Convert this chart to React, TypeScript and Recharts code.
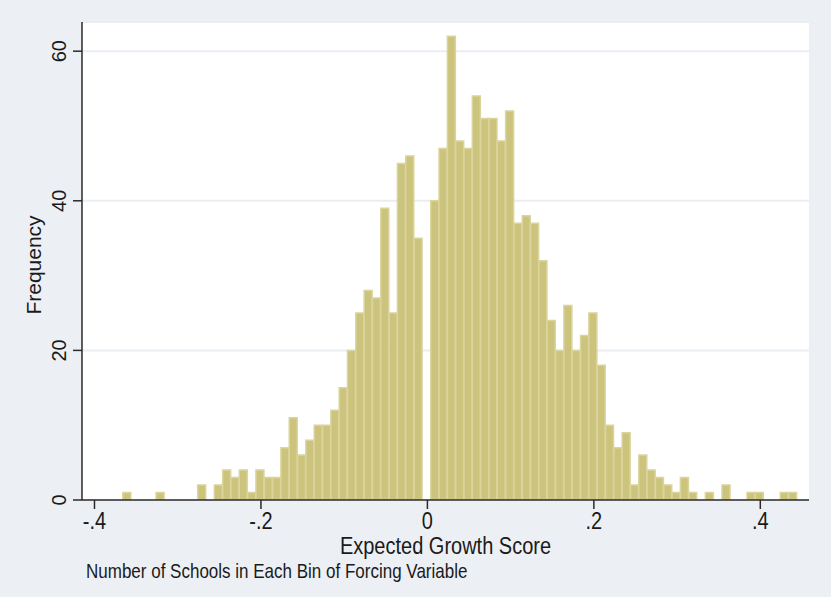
import React from 'react';
import { BarChart, Bar, XAxis, YAxis, CartesianGrid, Label } from 'recharts';

// bin midpoints (bin width .01)
const binMids = [
  -0.361, -0.351, -0.341, -0.331, -0.321, -0.311, -0.301, -0.291, -0.281, -0.271,
  -0.261, -0.251, -0.241, -0.231, -0.221, -0.211, -0.201, -0.191, -0.181, -0.171,
  -0.161, -0.151, -0.141, -0.131, -0.121, -0.111, -0.101, -0.091, -0.081, -0.071,
  -0.061, -0.051, -0.041, -0.031, -0.021, -0.011, -0.001, 0.009, 0.019, 0.029,
  0.039, 0.049, 0.059, 0.069, 0.079, 0.089, 0.099, 0.109, 0.119, 0.129,
  0.139, 0.149, 0.159, 0.169, 0.179, 0.189, 0.199, 0.209, 0.219, 0.229,
  0.239, 0.249, 0.259, 0.269, 0.279, 0.289, 0.299, 0.309, 0.319, 0.329,
  0.339, 0.349, 0.359, 0.369, 0.379, 0.389, 0.399, 0.409, 0.419, 0.429,
  0.439,
];

// number of schools per bin
const frequency = [
  1, 0, 0, 0, 1, 0, 0, 0, 0, 2,
  0, 2, 4, 3, 4, 1, 4, 3, 3, 7,
  11, 6, 8, 10, 10, 12, 15, 20, 25, 28,
  27, 39, 25, 45, 46, 35, 0, 40, 47, 62,
  48, 47, 54, 51, 51, 48, 52, 37, 38, 37,
  32, 24, 20, 26, 20, 22, 25, 18, 10, 7,
  9, 2, 6, 4, 3, 2, 1, 3, 1, 0,
  1, 0, 2, 0, 0, 1, 1, 0, 0, 1,
  1,
];

const xTicks = [-0.4, -0.2, 0, 0.2, 0.4];
const yTicks = [0, 20, 40, 60];

const data = binMids.map((x, i) => ({ x, freq: frequency[i] }));

const FONT = '"Liberation Sans", Arial, sans-serif';
const INK = '#1a1a1a';
const STRETCH = 1.15; // horizontal text is drawn a little taller than wide

const fmtX = (v: number) => (v === 0 ? '0' : v.toFixed(1).replace('0.', '.'));

const XTick = (props: any) => {
  const { x, y, payload } = props;
  return (
    <g transform={`translate(${x},${y}) scale(1,${STRETCH})`}>
      <text x={0} y={0} dy="0.71em" textAnchor="middle" fontSize={20} fontFamily={FONT} fill={INK}>
        {fmtX(payload.value)}
      </text>
    </g>
  );
};

const XTitle = (props: any) => {
  const { viewBox } = props;
  const cx = viewBox.x + viewBox.width / 2;
  const top = viewBox.y + viewBox.height + 8;
  return (
    <g transform={`translate(${cx},${top}) scale(1,${STRETCH})`}>
      <text x={0} y={0} dy="0.71em" textAnchor="middle" fontSize={20} fontFamily={FONT} fill={INK}>
        Expected Growth Score
      </text>
    </g>
  );
};

const YTick = (props: any) => {
  const { x, y, payload } = props;
  const bx = x - 5;
  return (
    <text
      x={bx}
      y={y}
      transform={`rotate(-90 ${bx} ${y})`}
      textAnchor="middle"
      fontSize={20}
      fontFamily={FONT}
      fill={INK}
    >
      {payload.value}
    </text>
  );
};

const YTitle = (props: any) => {
  const { viewBox } = props;
  const bx = viewBox.x + 19;
  const cy = viewBox.y + viewBox.height / 2 + 4;
  return (
    <text
      x={bx}
      y={cy}
      transform={`rotate(-90 ${bx} ${cy})`}
      textAnchor="middle"
      fontSize={21}
      fontFamily={FONT}
      fill={INK}
    >
      Frequency
    </text>
  );
};

export default function App() {
  return (
    <div
      style={{
        position: 'absolute',
        left: 0,
        top: 0,
        width: 831,
        height: 597,
        background: '#ECF0F5',
      }}
    >
      <BarChart
        width={831}
        height={597}
        data={data}
        margin={{ top: 22, right: 22, bottom: 67, left: 22 }}
        barCategoryGap={0}
        barGap={0}
      >
        <CartesianGrid vertical={false} fill="#ffffff" stroke="#E9EEF3" strokeWidth={2} />
        <XAxis
          type="number"
          dataKey="x"
          domain={[-0.415, 0.4585]}
          allowDataOverflow
          ticks={xTicks}
          interval={0}
          height={30}
          tickSize={9}
          tickMargin={4}
          stroke="#2a2a2a"
          strokeWidth={1.5}
          tick={<XTick />}
        >
          <Label content={<XTitle />} />
        </XAxis>
        <YAxis
          domain={[0, 63.9]}
          allowDataOverflow
          ticks={yTicks}
          interval={0}
          width={60}
          tickSize={9}
          tickMargin={2}
          stroke="#2a2a2a"
          strokeWidth={1.5}
          tick={<YTick />}
          label={<YTitle />}
        />
        <Bar
          dataKey="freq"
          fill="#CCC47D"
          stroke="#DAD49D"
          strokeWidth={1.5}
          isAnimationActive={false}
        />
      </BarChart>
      <div
        style={{
          position: 'absolute',
          left: 86,
          top: 562,
          fontSize: 17,
          lineHeight: '20px',
          fontFamily: FONT,
          color: INK,
          whiteSpace: 'nowrap',
          transform: `scaleY(${STRETCH})`,
          transformOrigin: 'left center',
        }}
      >
        Number of Schools in Each Bin of Forcing Variable
      </div>
    </div>
  );
}
